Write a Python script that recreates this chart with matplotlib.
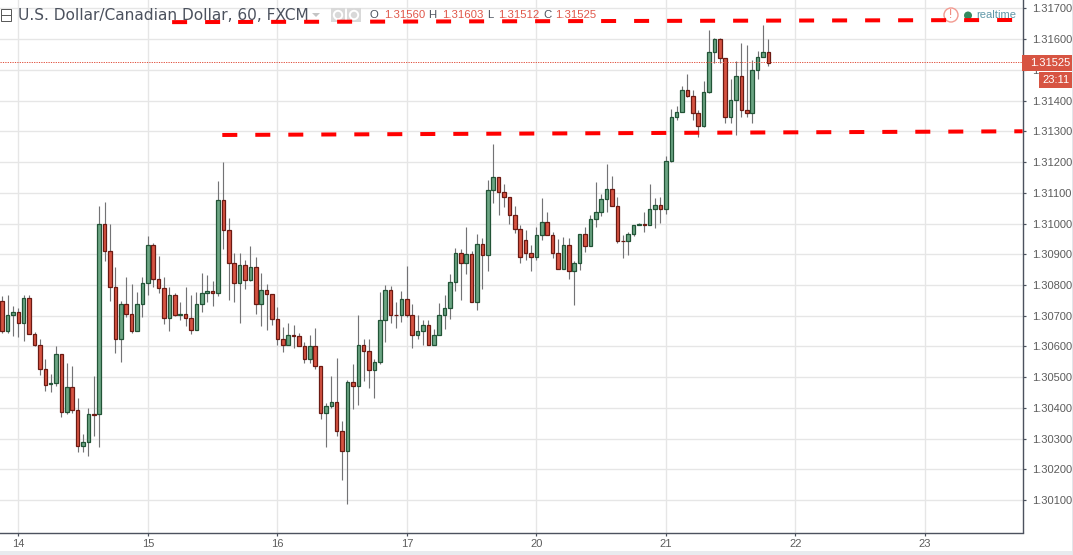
import matplotlib
matplotlib.use("Agg")
import matplotlib.pyplot as plt
from matplotlib.patches import Rectangle, Circle, Polygon

opens = [1.30747,1.30649,1.30704,1.30713,1.30675,1.30759,1.30642,1.30606,1.30528,1.30477,
1.30480,1.30574,1.30388,1.30467,1.30395,1.30275,1.30288,1.30379,1.30379,1.30997,
1.30909,1.30795,1.30623,1.30737,1.30707,1.30652,1.30737,1.30805,1.30929,1.30821,
1.30789,1.30694,1.30766,1.30704,1.30707,1.30694,1.30655,1.30737,1.30773,1.30782,
1.30773,1.31075,1.30978,1.30870,1.30808,1.30864,1.30815,1.30857,1.30737,1.30783,
1.30770,1.30688,1.30626,1.30604,1.30636,1.30633,1.30600,1.30558,1.30600,1.30538,
1.30385,1.30408,1.30418,1.30324,1.30259,1.30486,1.30470,1.30604,1.30584,1.30525,
1.30551,1.30685,1.30783,1.30704,1.30704,1.30756,1.30701,1.30639,1.30649,1.30669,
1.30604,1.30636,1.30704,1.30724,1.30809,1.30903,1.30871,1.30900,1.30744,1.30932,
1.30897,1.31109,1.31151,1.31102,1.31086,1.31027,1.30982,1.30946,1.30904,1.30891,
1.30962,1.31004,1.30962,1.30904,1.30851,1.30929,1.30845,1.30871,1.30965,1.30926,
1.31014,1.31037,1.31079,1.31112,1.31057,1.30943,1.30943,1.30965,1.30995,1.30998,
1.30995,1.31047,1.31060,1.31046,1.31202,1.31346,1.31362,1.31434,1.31414,1.31359,
1.31316,1.31427,1.31557,1.31600,1.31538,1.31346,1.31401,1.31479,1.31368,1.31359,
1.31499,1.31541,1.31557]
closes = [1.30649,1.30704,1.30713,1.30675,1.30759,1.30642,1.30606,1.30528,1.30476,1.30480,
1.30574,1.30388,1.30467,1.30395,1.30275,1.30288,1.30379,1.30378,1.30997,1.30909,
1.30795,1.30623,1.30737,1.30707,1.30652,1.30737,1.30805,1.30929,1.30821,1.30789,
1.30694,1.30766,1.30704,1.30707,1.30694,1.30655,1.30737,1.30773,1.30782,1.30773,
1.31075,1.30978,1.30870,1.30808,1.30864,1.30815,1.30857,1.30737,1.30783,1.30770,
1.30688,1.30626,1.30604,1.30636,1.30633,1.30600,1.30558,1.30600,1.30538,1.30385,
1.30408,1.30418,1.30324,1.30259,1.30486,1.30470,1.30604,1.30584,1.30525,1.30551,
1.30685,1.30783,1.30704,1.30703,1.30756,1.30701,1.30639,1.30649,1.30669,1.30604,
1.30636,1.30704,1.30724,1.30809,1.30903,1.30871,1.30900,1.30744,1.30932,1.30897,
1.31109,1.31151,1.31102,1.31086,1.31027,1.30982,1.30891,1.30904,1.30891,1.30962,
1.31004,1.30962,1.30904,1.30851,1.30929,1.30845,1.30871,1.30965,1.30926,1.31014,
1.31037,1.31079,1.31112,1.31057,1.30943,1.30942,1.30965,1.30995,1.30998,1.30995,
1.31047,1.31060,1.31047,1.31202,1.31346,1.31362,1.31434,1.31414,1.31359,1.31316,
1.31427,1.31557,1.31600,1.31538,1.31346,1.31401,1.31479,1.31368,1.31359,1.31499,
1.31541,1.31557,1.31521]
highs = [1.30764,1.30767,1.30731,1.30724,1.30769,1.30769,1.30646,1.30624,1.30558,1.30512,
1.30600,1.30574,1.30545,1.30538,1.30431,1.30314,1.30399,1.30503,1.31057,1.31069,
1.31000,1.30860,1.30748,1.30825,1.30802,1.30777,1.30825,1.30959,1.30935,1.30893,
1.30825,1.30792,1.30773,1.30744,1.30795,1.30769,1.30776,1.30838,1.30834,1.30812,
1.31137,1.31200,1.31017,1.30903,1.30903,1.30880,1.30926,1.30890,1.30838,1.30802,
1.30770,1.30727,1.30665,1.30675,1.30670,1.30643,1.30613,1.30639,1.30659,1.30538,
1.30415,1.30503,1.30561,1.30359,1.30491,1.30542,1.30704,1.30623,1.30626,1.30558,
1.30776,1.30799,1.30796,1.30744,1.30779,1.30861,1.30737,1.30701,1.30685,1.30685,
1.30656,1.30740,1.30766,1.30835,1.30919,1.30916,1.30989,1.30910,1.30965,1.30952,
1.31141,1.31259,1.31151,1.31128,1.31086,1.31057,1.30995,1.30978,1.30930,1.30988,
1.31083,1.31037,1.30972,1.30949,1.30956,1.30952,1.30878,1.30965,1.30988,1.31027,
1.31135,1.31096,1.31193,1.31154,1.31086,1.30962,1.30972,1.30995,1.31001,1.31037,
1.31128,1.31083,1.31086,1.31221,1.31373,1.31382,1.31447,1.31486,1.31434,1.31368,
1.31464,1.31629,1.31603,1.31603,1.31538,1.31469,1.31528,1.31587,1.31580,1.31531,
1.31560,1.31645,1.31600]
lows = [1.30645,1.30645,1.30634,1.30631,1.30617,1.30642,1.30603,1.30507,1.30456,1.30452,
1.30472,1.30371,1.30381,1.30384,1.30257,1.30257,1.30244,1.30309,1.30273,1.30879,
1.30749,1.30579,1.30550,1.30697,1.30645,1.30652,1.30697,1.30767,1.30794,1.30775,
1.30674,1.30651,1.30700,1.30686,1.30667,1.30641,1.30655,1.30712,1.30744,1.30732,
1.30764,1.30918,1.30752,1.30745,1.30677,1.30788,1.30814,1.30706,1.30666,1.30655,
1.30671,1.30606,1.30583,1.30604,1.30596,1.30600,1.30547,1.30547,1.30528,1.30365,
1.30274,1.30399,1.30310,1.30166,1.30088,1.30397,1.30411,1.30489,1.30466,1.30433,
1.30544,1.30616,1.30677,1.30661,1.30681,1.30697,1.30596,1.30625,1.30606,1.30604,
1.30604,1.30636,1.30658,1.30690,1.30782,1.30752,1.30836,1.30744,1.30720,1.30788,
1.30847,1.31068,1.31029,1.31055,1.30999,1.30969,1.30873,1.30881,1.30844,1.30880,
1.30947,1.30962,1.30889,1.30851,1.30851,1.30821,1.30736,1.30850,1.30906,1.30926,
1.30990,1.31023,1.31039,1.31057,1.30935,1.30889,1.30896,1.30959,1.30995,1.30974,
1.30995,1.30984,1.31003,1.31030,1.31199,1.31336,1.31362,1.31411,1.31337,1.31283,
1.31313,1.31424,1.31521,1.31521,1.31328,1.31326,1.31289,1.31348,1.31348,1.31328,
1.31469,1.31541,1.31511]

day_positions = [3, 27, 51, 75, 99, 123, 147, 171]
day_labels = ["14", "15", "16", "17", "20", "21", "22", "23"]
price_ticks = [1.30100,1.30200,1.30300,1.30400,1.30500,1.30600,1.30700,1.30800,1.30900,
               1.31000,1.31100,1.31200,1.31300,1.31400,1.31500,1.31600,1.31700]
lower_line_x = [40.8, 189.1]
lower_line_y = [1.31288, 1.31300]
upper_line_x = [31.5, 187.8]
upper_line_y = [1.31655, 1.31662]
last_price = 1.31525

W, H = 1073, 555
fig = plt.figure(figsize=(W/100, H/100), dpi=100, facecolor="white")
AX_R, AX_B = 1022.5, 532.5
ax = fig.add_axes([0, 1-AX_B/H, AX_R/W, AX_B/H], zorder=1)
ax.set_xlim(-0.393, 189.08)
ax.set_ylim(1.29995, 1.31727)
ax.patch.set_alpha(0)

ov = fig.add_axes([0, 0, 1, 1], zorder=2)
ov.set_xlim(0, W); ov.set_ylim(H, 0); ov.axis("off"); ov.patch.set_alpha(0)

px = 0.72
AXC = "#4c525e"; TXT = "#5c5c5c"
ax.set_axisbelow(True)
ax.grid(True, color="#e6e6e6", lw=1.35*px, zorder=0)
for s in ("top", "left"):
    ax.spines[s].set_visible(False)
for s in ("right", "bottom"):
    ax.spines[s].set_color(AXC); ax.spines[s].set_linewidth(1.4*px)
ax.yaxis.tick_right()
ax.set_yticks(price_ticks)
ax.set_yticklabels([f"{p:.5f}" for p in price_ticks])
ax.set_xticks(day_positions)
ax.set_xticklabels(day_labels)
ax.tick_params(axis="both", length=3.2*px, width=1.2*px, color=AXC, labelcolor=TXT, labelsize=8.0)
ax.tick_params(axis="x", pad=2.5)
ax.tick_params(axis="y", pad=4.5)
for t in ax.get_xticklabels()+ax.get_yticklabels():
    t.set_family("Liberation Sans")

xs = list(range(len(opens)))
ax.vlines(xs, lows, highs, color="#737375", lw=1.15*px, zorder=3)
for x, o, c in zip(xs, opens, closes):
    up = c >= o
    ax.bar(x, abs(c-o), bottom=min(o, c), width=0.66,
           facecolor="#6ba583" if up else "#d75442",
           edgecolor="#225437" if up else "#6b1a13", lw=1.25*px, zorder=4)

ax.axhline(last_price, color="#e0523f", lw=1.0*px, dashes=(1.2, 1.2), zorder=5)

for lx, ly in ((lower_line_x, lower_line_y), (upper_line_x, upper_line_y)):
    ax.plot(lx, ly, color="#ff0000", lw=4*px, dashes=(15/4, 18/4),
            dash_capstyle="butt", solid_capstyle="butt", zorder=8, clip_on=False)

tr = ov.transData
# Title bar, written below the hand-drawn red lines
ax.text(18, 15, "U.S. Dollar/Canadian Dollar, 60, FXCM", transform=tr, family="DejaVu Sans",
        fontsize=11.05, color="#4c525e", va="center", ha="left", zorder=6)
ohlc_labels = ["O", "H", "L", "C"]
ohlc_values = ["1.31560", "1.31603", "1.31512", "1.31525"]
for lab, lx, val, vx in zip(ohlc_labels, [369, 428, 487, 543], ohlc_values, [384, 442, 498, 555]):
    ax.text(lx, 15.5, lab, transform=tr, family="Liberation Sans", fontsize=8.2, color="#4c525e",
            va="center", zorder=6)
    ax.text(vx, 15.5, val, transform=tr, family="Liberation Sans", fontsize=8.2, color="#e0574a",
            va="center", zorder=6)

# Small interface marks
ax.add_patch(Rectangle((0.5, 9), 10.5, 12, transform=tr, fc="white", ec="#555555", lw=0.7, zorder=6, clip_on=False))
ax.plot([1, 10], [15, 15], transform=tr, color="#555555", lw=0.7, zorder=7, clip_on=False)
ax.add_patch(Polygon([(312, 13), (320, 13), (316, 17)], transform=tr, fc="#c4c4c4", ec="none", zorder=6, clip_on=False))
for gx in (331, 347):
    ax.add_patch(Rectangle((gx, 8), 14, 14, transform=tr, fc="#d9d9d9", ec="none", zorder=6, clip_on=False))
    ax.add_patch(Circle((gx+7, 15), 4.2, transform=tr, fc="none", ec="white", lw=1.4, zorder=7, clip_on=False))
ax.add_patch(Circle((951, 15), 7, transform=tr, fc="white", ec="#f29a90", lw=1.0, zorder=6, clip_on=False))
ax.text(951, 15, "!", transform=tr, color="#ef7f72", fontsize=8.5, family="Liberation Sans",
        ha="center", va="center", zorder=7)
ax.add_patch(Circle((968, 15.5), 4, transform=tr, fc="#358a5f", ec="none", zorder=6, clip_on=False))
ax.text(976, 15.5, "realtime", transform=tr, family="Liberation Sans", fontsize=8.1, color="#5f97a8",
        va="center", zorder=6)

# Last price labels on the axis
ov.add_patch(Rectangle((1022, 55), 50, 16, fc="#d75442", ec="none"))
ov.add_patch(Rectangle((1039, 72), 33, 16, fc="#d75442", ec="none"))
ov.add_patch(Rectangle((1039, 71), 33, 1, fc="white", ec="none"))
ov.text(1030, 63, f"{last_price:.5f}", family="Liberation Sans", fontsize=8.0, color="white", va="center")
ov.text(1042, 80, "23:11", family="Liberation Sans", fontsize=8.0, color="white", va="center")
ov.add_patch(Rectangle((0, 551), W, 4, fc="#e8ebef", ec="none"))
ov.add_patch(Rectangle((1072, 0), 1, H, fc="#e3e6ea", ec="none"))

fig.savefig("out.png", dpi=100)
